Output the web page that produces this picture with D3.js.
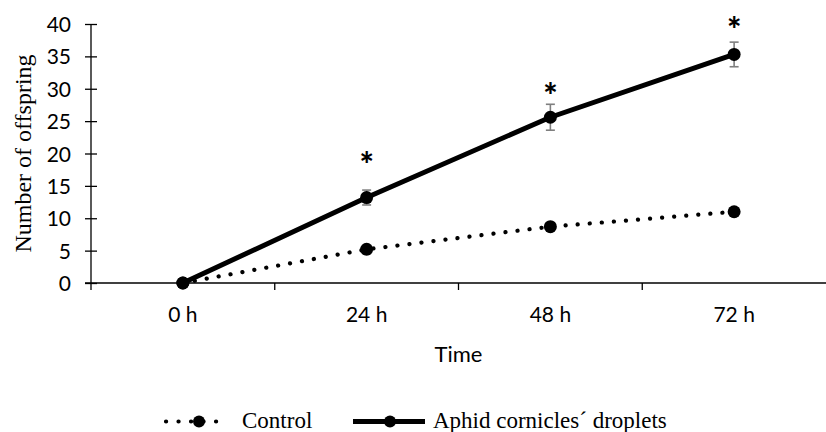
<!DOCTYPE html>
<html>
<head>
<meta charset="utf-8">
<script src="https://cdn.jsdelivr.net/npm/d3@7"></script>
<style>
  html, body { margin: 0; padding: 0; background: #fff; }
  svg { display: block; }
</style>
</head>
<body>
<svg id="chart" width="826" height="432"></svg>
<script>
// Time points and mean number of offspring per treatment
const timeLabels = ["0 h", "24 h", "48 h", "72 h"];
const controlValues = [0, 5.2, 8.7, 11.0];
const controlErrors = [0, 0.4, 0.5, 0.6];
const dropletValues = [0, 13.2, 25.6, 35.3];
const dropletErrors = [0, 1.15, 2.0, 1.9];
// height (in offspring units) of the significance marks; null = not significant
const asteriskLevels = [null, 19.5, 30.1, 40.3];
const yTicks = [0, 5, 10, 15, 20, 25, 30, 35, 40];
const seriesNames = ["Control", "Aphid cornicles\u00b4 droplets"];

const svg = d3.select("#chart");
const W = 826, H = 432;
const plotLeft = 91, plotTop = 24, plotBottom = 283;

const x = d3.scaleBand().domain(timeLabels).range([plotLeft, W]).paddingInner(0).paddingOuter(0);
const y = d3.scaleLinear().domain([0, 40]).range([plotBottom, plotTop]);

const sans = "Lato, 'Open Sans', sans-serif";
const serif = "'Liberation Serif', 'Times New Roman', serif";

// Y axis
const yAxis = d3.axisLeft(y).tickValues(yTicks).tickSize(6).tickPadding(14);
const gy = svg.append("g").attr("transform", `translate(${plotLeft},0)`).call(yAxis);
gy.select(".domain").remove();
gy.append("line").attr("x1", 0).attr("x2", 0).attr("y1", y(40)).attr("y2", plotBottom + 7)
  .attr("stroke", "#000").attr("stroke-width", 1.3);
gy.selectAll(".tick line").attr("x2", 6).attr("x1", -6).attr("stroke", "#000").attr("stroke-width", 1.3);
gy.selectAll(".tick text").attr("font-family", sans).attr("font-size", 21).attr("fill", "#000")
  .attr("dy", "0.36em");

// X axis: ticks on the category boundaries, labels at the centres
const xAxisY = y(0);
svg.append("line").attr("x1", plotLeft - 6).attr("x2", W).attr("y1", xAxisY).attr("y2", xAxisY)
  .attr("stroke", "#000").attr("stroke-width", 1.3);
const boundaries = timeLabels.slice(1).map(d => x(d));
svg.selectAll(".xtick").data(boundaries).enter().append("line")
  .attr("x1", d => d).attr("x2", d => d).attr("y1", xAxisY).attr("y2", xAxisY + 7)
  .attr("stroke", "#000").attr("stroke-width", 1.3);
svg.selectAll(".xlabel").data(timeLabels).enter().append("text")
  .attr("x", d => x(d) + x.bandwidth() / 2).attr("y", 322)
  .attr("text-anchor", "middle").attr("font-family", sans).attr("font-size", 21).text(d => d);

// Axis titles
svg.append("text").attr("x", x(timeLabels[2])).attr("y", 362).attr("text-anchor", "middle")
  .attr("font-family", sans).attr("font-size", 22).text("Time");
svg.append("text").attr("transform", `translate(31,${(y(0) + y(40)) / 2}) rotate(-90)`)
  .attr("text-anchor", "middle").attr("font-family", serif).attr("font-size", 24).text("Number of offspring");

const cx = i => x(timeLabels[i]) + x.bandwidth() / 2;
const line = d3.line().x((d, i) => cx(i)).y(d => y(d));

// Control: dotted line
svg.append("path").datum(controlValues).attr("d", line).attr("fill", "none")
  .attr("stroke", "#000").attr("stroke-width", 4.2).attr("stroke-linecap", "round")
  .attr("stroke-dasharray", "0.1 12");

// Droplets: solid thick line
svg.append("path").datum(dropletValues).attr("d", line).attr("fill", "none")
  .attr("stroke", "#000").attr("stroke-width", 5);

// Error bars
function errorBars(values, errs) {
  const g = svg.append("g").attr("stroke", "#7f7f7f").attr("stroke-width", 1.6);
  values.forEach((v, i) => {
    if (!errs[i]) return;
    const c = cx(i), t = y(v + errs[i]), b = y(v - errs[i]);
    g.append("line").attr("x1", c).attr("x2", c).attr("y1", t).attr("y2", b);
    g.append("line").attr("x1", c - 4.5).attr("x2", c + 4.5).attr("y1", t).attr("y2", t);
    g.append("line").attr("x1", c - 4.5).attr("x2", c + 4.5).attr("y1", b).attr("y2", b);
  });
}
errorBars(controlValues, controlErrors);
errorBars(dropletValues, dropletErrors);

// Markers
[controlValues, dropletValues].forEach(vals => {
  svg.selectAll(null).data(vals).enter().append("circle")
    .attr("cx", (d, i) => cx(i)).attr("cy", d => y(d)).attr("r", 6.5).attr("fill", "#000");
});

// Significance asterisks (glyph centred on the given level)
asteriskLevels.forEach((lv, i) => {
  if (lv == null) return;
  svg.append("text").attr("x", cx(i)).attr("y", y(lv) + 20)
    .attr("text-anchor", "middle").attr("font-family", sans).attr("font-weight", "900")
    .attr("font-size", 34).text("*");
});

// Legend
const legY = 421.5;
const leg = svg.append("g");
leg.append("line").attr("x1", 166).attr("x2", 228).attr("y1", legY).attr("y2", legY)
  .attr("stroke", "#000").attr("stroke-width", 4.2).attr("stroke-linecap", "round").attr("stroke-dasharray", "0.1 12.4");
leg.append("circle").attr("cx", 199).attr("cy", legY).attr("r", 6).attr("fill", "#000");
leg.append("text").attr("x", 242).attr("y", 428).attr("font-family", serif).attr("font-size", 23).text(seriesNames[0]);
leg.append("line").attr("x1", 353).attr("x2", 425).attr("y1", legY).attr("y2", legY)
  .attr("stroke", "#000").attr("stroke-width", 5);
leg.append("circle").attr("cx", 390).attr("cy", legY).attr("r", 6).attr("fill", "#000");
leg.append("text").attr("x", 433).attr("y", 428).attr("font-family", serif).attr("font-size", 23).text(seriesNames[1]);
</script>
</body>
</html>
